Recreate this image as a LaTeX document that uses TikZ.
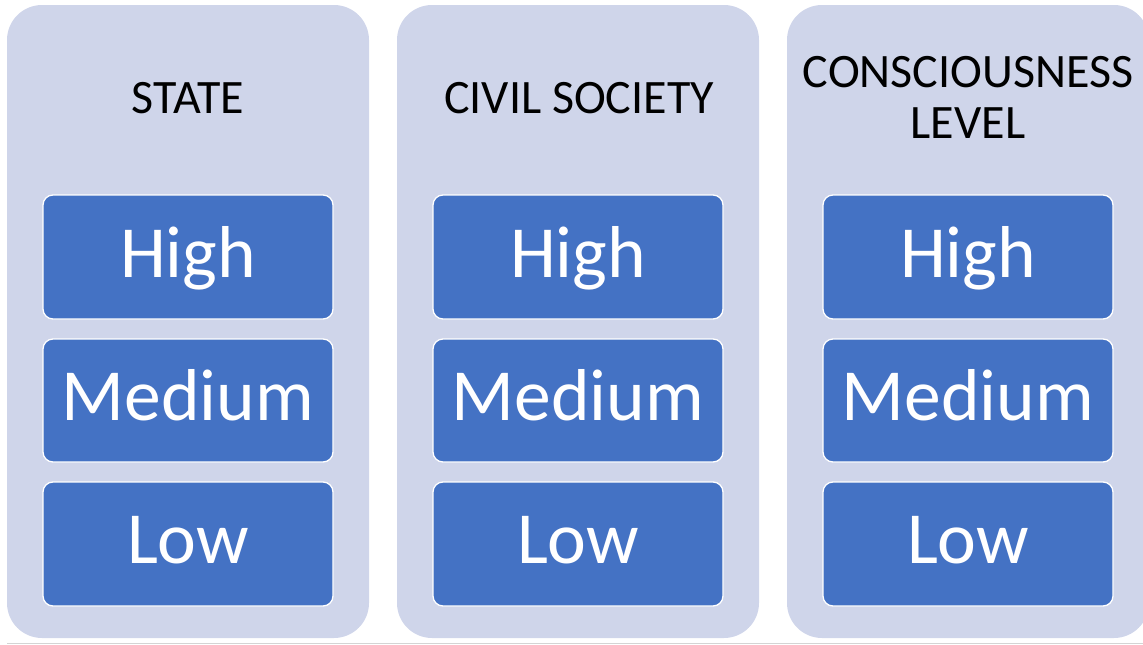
\documentclass[tikz,border=0pt]{standalone}
\usepackage{fontspec}
\setmainfont{Carlito}
\definecolor{panelfill}{HTML}{CFD5EA}
\definecolor{boxfill}{HTML}{4472C4}
\definecolor{rulegray}{HTML}{D4D4D4}
\begin{document}
\begin{tikzpicture}[x=1pt,y=-1pt,
  panel/.style={fill=panelfill, draw=none, rounded corners=35pt},
  levelbox/.style={fill=boxfill, draw=white, line width=1.3pt, rounded corners=10pt},
  titletext/.style={anchor=base, inner sep=0pt, font=\fontsize{48}{52}\selectfont, text=black},
  leveltext/.style={anchor=base, inner sep=0pt, font=\fontsize{73.5}{80}\selectfont, text=white}]
\useasboundingbox (0,0) rectangle (1143,645);
\begin{scope}
\clip (0,0) rectangle (1143,645);
% panels
\foreach \px/\nm in {7/pA, 397/pB, 787/pC}{
  \path[panel] (\px,5) rectangle ++(362,633);
  \coordinate (\nm) at (\px+181,0);
}
% level boxes
\foreach \bx/\c in {43/A, 433/B, 823/C}{
  \path[levelbox] (\bx,195) rectangle ++(290,124);
  \path[levelbox] (\bx,339) rectangle ++(290,123);
  \path[levelbox] (\bx,482) rectangle ++(290,124);
}
\end{scope}
% titles
\node[titletext] (tA) at (188,113) {STATE};
\node[titletext] (tB) at (579,113) {CIVIL SOCIETY};
\node[titletext] (tC1) at (968,87) {CONSCIOUSNESS};
\node[titletext] (tC2) at (968,138) {LEVEL};
% level labels
\foreach \cx/\c in {188/A, 578/B, 968/C}{
  \node[leveltext] (high\c) at (\cx,277) {High};
  \node[leveltext] (med\c) at (\cx,420) {Medium};
  \node[leveltext] (low\c) at (\cx,563) {Low};
}
% bottom rule
\draw[rulegray, line width=1pt] (7,643) -- (1143,643);
\end{tikzpicture}
\end{document}
